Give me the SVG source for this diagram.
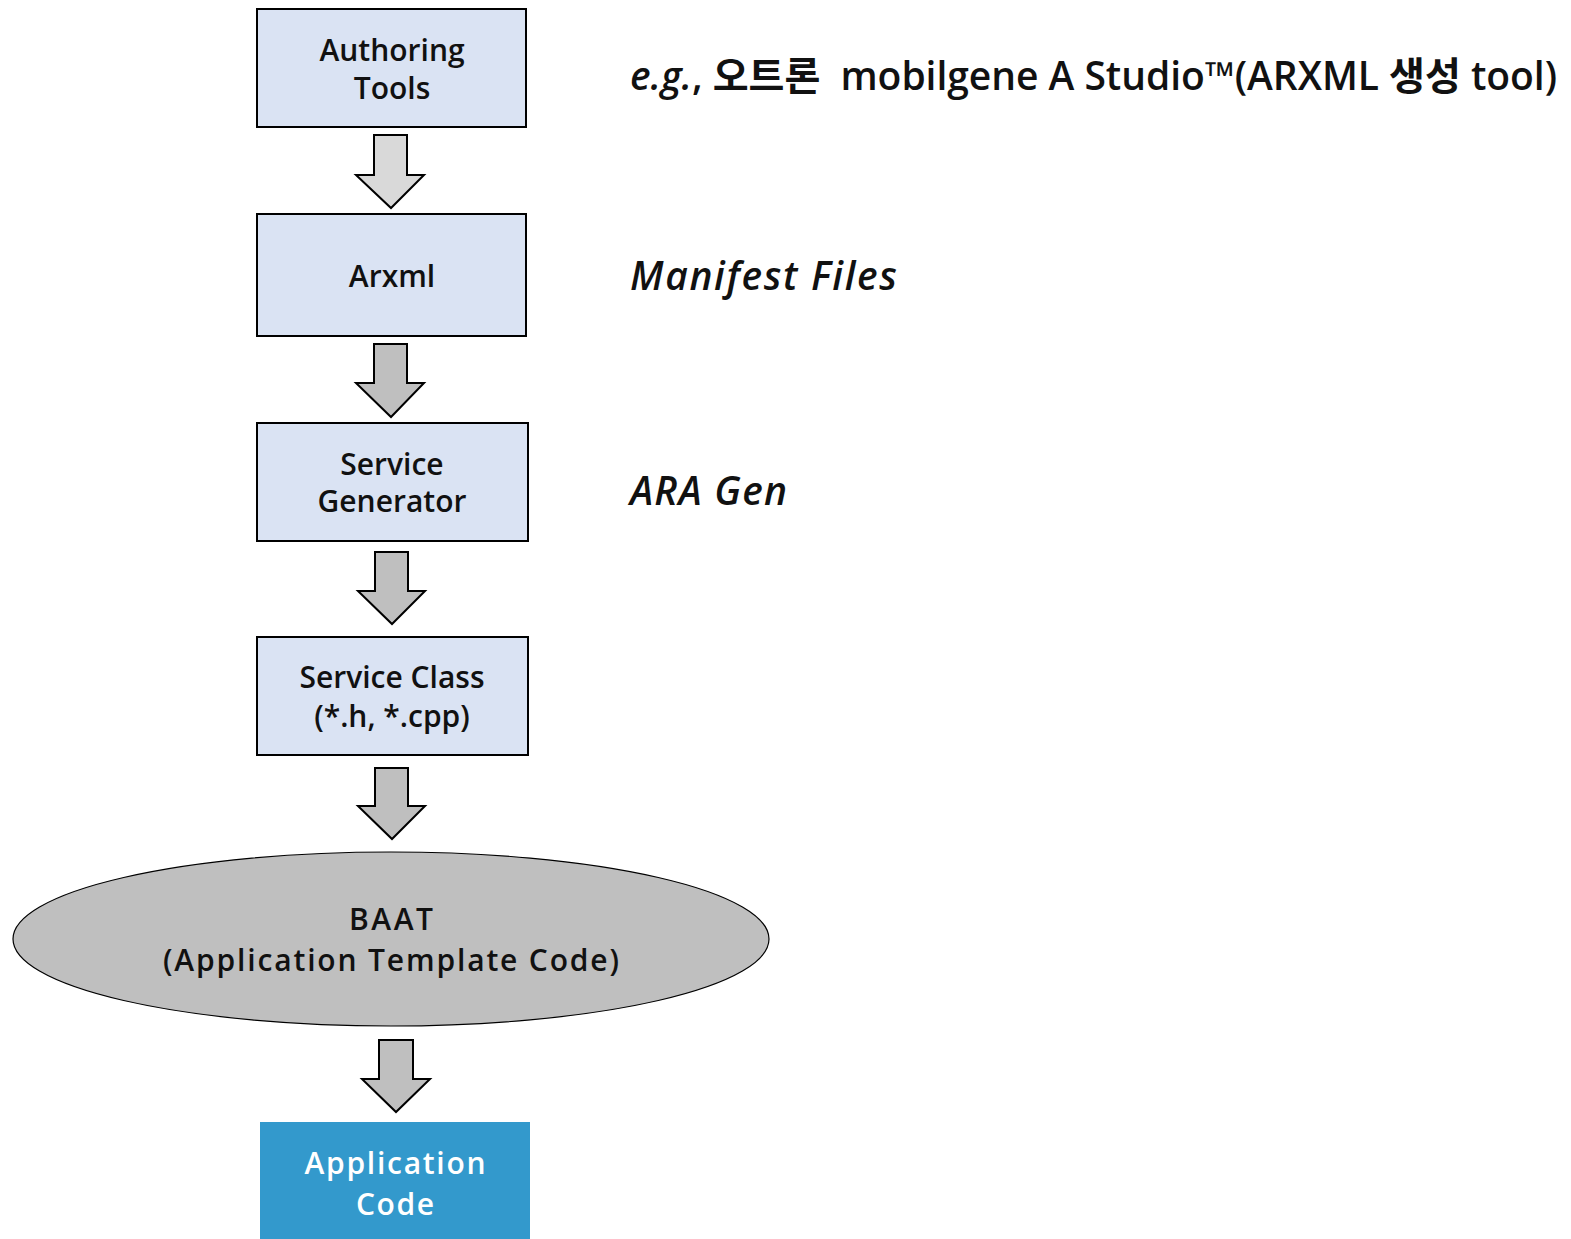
<svg xmlns="http://www.w3.org/2000/svg" width="1571" height="1239" viewBox="0 0 1571 1239">
  <style>
    .box { fill: #dae3f3; stroke: #000; stroke-width: 2; }
    .lbl { font-family: "Open Sans", "DejaVu Sans", sans-serif; font-weight: 600; font-size: 30px; fill: #111; text-anchor: middle; }
    .white { fill: #fff; }
    .note { font-family: "Open Sans", "Noto Sans CJK KR", sans-serif; font-weight: 600; font-size: 39px; fill: #111; }
    .arrow { stroke: #000; stroke-width: 2; stroke-linejoin: miter; }
  </style>
  <rect width="1571" height="1239" fill="#fff"/>

  <!-- flow arrows -->
  <g id="connectors">
    <path class="arrow" fill="#d9d9d9" d="M374 135 H407 V175 H424 L391 208 L356 175 H374 Z"/>
    <path class="arrow" fill="#bfbfbf" d="M374 344 H407 V383 H424 L391 417 L356 383 H374 Z"/>
    <path class="arrow" fill="#bfbfbf" d="M375 552 H408 V591 H425 L392 624 L358 591 H375 Z"/>
    <path class="arrow" fill="#bfbfbf" d="M375 768 H408 V806 H425 L392 839 L358 806 H375 Z"/>
    <path class="arrow" fill="#bfbfbf" d="M379 1040 H413 V1079 H430 L396 1112 L362 1079 H379 Z"/>
  </g>

  <g id="authoring-tools">
    <rect class="box" x="257" y="9" width="269" height="118"/>
    <text class="lbl" x="392" y="61">Authoring</text>
    <text class="lbl" x="392" y="99">Tools</text>
  </g>

  <g id="arxml">
    <rect class="box" x="257" y="214" width="269" height="122"/>
    <text class="lbl" x="392" y="287">Arxml</text>
  </g>

  <g id="service-generator">
    <rect class="box" x="257" y="423" width="271" height="118"/>
    <text class="lbl" x="392" y="475">Service</text>
    <text class="lbl" x="392" y="512">Generator</text>
  </g>

  <g id="service-class">
    <rect class="box" x="257" y="637" width="271" height="118"/>
    <text class="lbl" x="392" y="688">Service Class</text>
    <text class="lbl" x="392" y="727">(*.h, *.cpp)</text>
  </g>

  <g id="baat">
    <ellipse cx="391" cy="939" rx="378" ry="87" fill="#bfbfbf" stroke="#000" stroke-width="1.2"/>
    <text class="lbl" x="391" y="930" textLength="84">BAAT</text>
    <text class="lbl" x="391" y="971" textLength="456">(Application Template Code)</text>
  </g>

  <g id="application-code">
    <rect x="260" y="1122" width="270" height="120" fill="#3399cc"/>
    <text class="lbl white" x="395" y="1174" textLength="181">Application</text>
    <text class="lbl white" x="395" y="1215" textLength="78">Code</text>
  </g>

  <!-- side notes -->
  <g id="notes">
    <text class="note" x="630" y="90" textLength="927" xml:space="preserve"><tspan font-style="italic">e.g.</tspan><tspan>, 오트론  mobilgene A Studio™(ARXML 생성 tool)</tspan></text>
    <text class="note" x="630" y="290" font-style="italic" textLength="267">Manifest Files</text>
    <text class="note" x="630" y="505" font-style="italic" textLength="157">ARA Gen</text>
  </g>
</svg>
